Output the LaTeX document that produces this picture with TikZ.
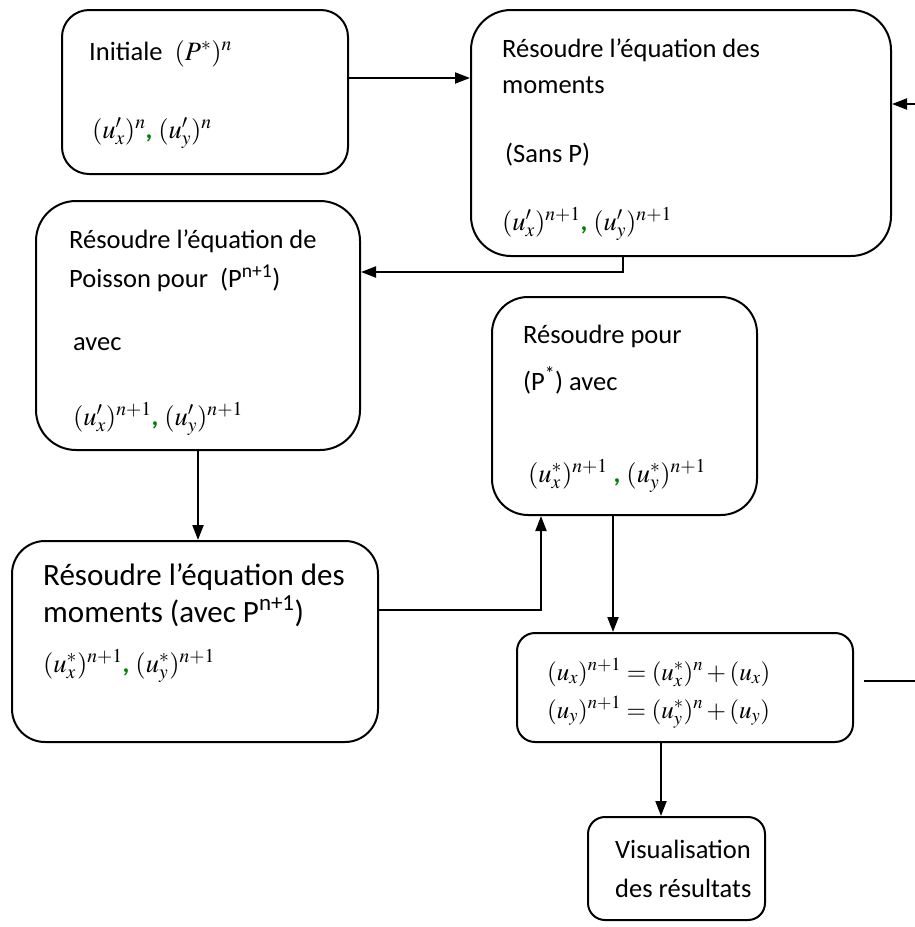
\documentclass[tikz,border=0pt]{standalone}
\usepackage{mathptmx}
\usepackage[no-math]{fontspec}
\setmainfont{Carlito}
\usepackage{xcolor}
\usetikzlibrary{arrows.meta,calc}
\usetikzlibrary{positioning}

\newcommand{\grcomma}{{\color{green!50!black}\textbf{,}}}

\begin{document}
\begin{tikzpicture}[
  x=1pt, y=-1pt,
  box/.style={draw, line width=2pt, inner sep=0pt},
  txt/.style={anchor=base west, inner sep=0pt, font=\fontsize{26.5}{32}\selectfont},
  bigtxt/.style={txt, font=\fontsize{31}{38}\selectfont},
  eqtxt/.style={txt, font=\fontsize{25}{30}\selectfont},
  arr/.style={-{Triangle[length=15pt,width=11pt]}, line width=2pt}
  ]
  \useasboundingbox (0,0) rectangle (915,927);

  % Boxes
  \node[box, minimum width=286pt, minimum height=164pt, rounded corners=27pt] (init) at (205,92) {};
  \node[box, minimum width=420pt, minimum height=246pt, rounded corners=40pt] (momA) at (681,133) {};
  \node[box, minimum width=324pt, minimum height=249pt, rounded corners=40pt] (pois) at (198,325.5) {};
  \node[box, minimum width=265pt, minimum height=218pt, rounded corners=36pt] (pstar) at (624.5,406) {};
  \node[box, minimum width=366pt, minimum height=201pt, rounded corners=33pt] (momB) at (195,641.5) {};
  \node[box, minimum width=336pt, minimum height=109pt, rounded corners=18pt] (upd) at (685,687.5) {};
  \node[box, minimum width=177pt, minimum height=103pt, rounded corners=17pt] (vis) at (676.5,868.5) {};

  % Texts
  \node[txt] (initA) at (89,60) {Initiale\ \ $(P^{*})^{n}$};
  \node[txt] (initB) at (92,138) {$(u^{\prime}_{x})^{n}$\grcomma\ $(u^{\prime}_{y})^{n}$};

  \node[txt] (momAa) at (502,57) {Résoudre l’équation des};
  \node[txt] (momAb) at (502,93) {moments};
  \node[txt] (momAc) at (505,162) {(Sans P)};
  \node[txt] (momAd) at (502,230) {$(u^{\prime}_{x})^{n+1}$\grcomma\ $(u^{\prime}_{y})^{n+1}$};

  \node[txt] (poisA) at (69,248) {Résoudre l’équation de};
  \node[txt] (poisB) at (69,287) {Poisson pour\ \ (P\textsuperscript{n+1})};
  \node[txt] (poisC) at (73,350) {avec};
  \node[txt] (poisD) at (73,425) {$(u^{\prime}_{x})^{n+1}$\grcomma\ $(u^{\prime}_{y})^{n+1}$};

  \node[txt] (pstarA) at (523,343) {Résoudre pour};
  \node[txt] (pstarB) at (523,390) {(P\textsuperscript{*}) avec};
  \node[txt] (pstarC) at (528,482) {$(u^{*}_{x})^{n+1}$\ \grcomma\ $(u^{*}_{y})^{n+1}$};

  \node[bigtxt] (momBa) at (43,585) {Résoudre l’équation des};
  \node[bigtxt] (momBb) at (43,622) {moments (avec P\textsuperscript{n+1})};
  \node[txt] (momBc) at (43,672) {$(u^{*}_{x})^{n+1}$\grcomma\ $(u^{*}_{y})^{n+1}$};

  \node[eqtxt] (updA) at (547,680) {$(u_{x})^{n+1}=(u^{*}_{x})^{n}+(u_{x})$};
  \node[eqtxt] (updB) at (547,718) {$(u_{y})^{n+1}=(u^{*}_{y})^{n}+(u_{y})$};

  \node[txt] (visA) at (615,858) {Visualisation};
  \node[txt] (visB) at (615,897) {des résultats};

  % Loop back
  \coordinate (edgeR) at (915,681);
  \coordinate (edgeT) at (915,104);

  % Connections
  \draw[arr] ([yshift=14pt]init.east) -- ([yshift=14pt]init.east -| momA.west);
  \draw[arr] (edgeT) -- (edgeT -| momA.east);
  \draw[line width=2pt] ([xshift=10pt]upd.east |- edgeR) -- (edgeR);
  \draw[arr] ([xshift=-58pt]momA.south) |- ([yshift=53.5pt]pois.east);
  \draw[arr] (pois.south) -- (pois.south |- momB.north);
  \draw[arr] ([yshift=31.5pt]momB.east) -| ([xshift=-83.5pt]pstar.south);
  \draw[arr] ([xshift=-11.5pt]pstar.south) -- ([xshift=-11.5pt]pstar.south |- upd.north);
  \draw[arr] ([xshift=-24pt]upd.south) -- ([xshift=-24pt]upd.south |- vis.north);

\end{tikzpicture}
\end{document}
